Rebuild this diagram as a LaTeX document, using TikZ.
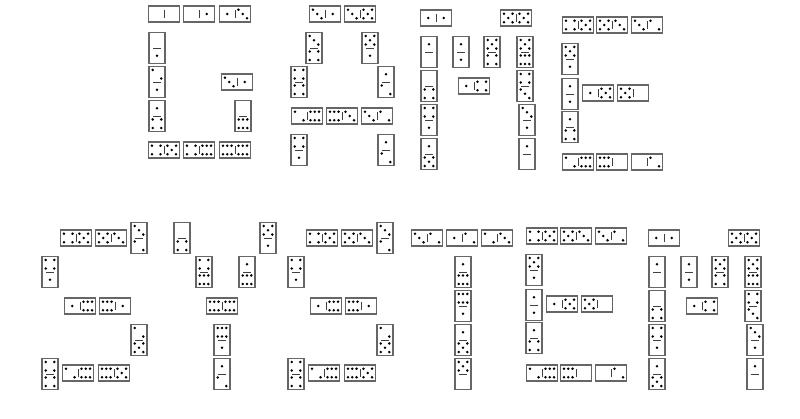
\documentclass[tikz,border=0pt]{standalone}
\tikzset{x=1pt,y=-1pt,
  dom/.style={draw=black!60,line width=1.1pt,fill=white},
  sep/.style={draw=black!75,line width=0.6pt}}
\newcommand\pip[2]{\fill (#1,#2) circle (1.4);}
\newcommand\pips[1]{\ifcase#1\or
  \pip{0}{0}\or
  \pip{-4.3}{-4.3}\pip{4.3}{4.3}\or
  \pip{-4.3}{-4.3}\pip{0}{0}\pip{4.3}{4.3}\or
  \pip{-4.3}{-4.3}\pip{4.3}{-4.3}\pip{-4.3}{4.3}\pip{4.3}{4.3}\or
  \pip{-4.3}{-4.3}\pip{4.3}{-4.3}\pip{0}{0}\pip{-4.3}{4.3}\pip{4.3}{4.3}\or
  \pip{-4.3}{-4.3}\pip{0}{-4.3}\pip{4.3}{-4.3}\pip{-4.3}{4.3}\pip{0}{4.3}\pip{4.3}{4.3}\fi}
% horizontal domino: x, y, left, right
\newcommand\domh[4]{\begin{scope}[shift={(#1,#2)}]
  \draw[dom] (-15.5,-8) rectangle (15.5,8);
  \draw[sep] (0,-4) -- (0,4);
  \begin{scope}[shift={(-7.75,0)}]\pips{#3}\end{scope}
  \begin{scope}[shift={(7.75,0)}]\pips{#4}\end{scope}
  \end{scope}}
% vertical domino: x, y, top, bottom
\newcommand\domv[4]{\begin{scope}[shift={(#1,#2)}]
  \draw[dom] (-8,-15.5) rectangle (8,15.5);
  \draw[sep] (-4,0) -- (4,0);
  \begin{scope}[shift={(0,-7.75)}]\pips{#3}\end{scope}
  \begin{scope}[shift={(0,7.75)}]\pips{#4}\end{scope}
  \end{scope}}
% letter S
\newcommand\letterS[1]{\begin{scope}[shift={(#1,0)}]
  \domh{76}{238}{4}{5} \domh{111}{238}{5}{3} \domv{139}{238}{3}{2}
  \domv{50}{272}{4}{1}
  \domh{80}{306}{1}{6} \domh{115}{306}{6}{1}
  \domv{139}{340}{2}{5}
  \domv{50}{374}{4}{4} \domh{78}{373}{2}{6} \domh{114}{373}{6}{5}
  \end{scope}}
% letter M
\newcommand\letterM[2]{\begin{scope}[shift={(#1,#2)}]
  \domh{436}{18}{1}{1} \domh{516}{18}{5}{5}
  \domv{429}{52}{1}{0} \domv{461}{52}{1}{1} \domv{492}{52}{5}{4} \domv{525}{52}{5}{6}
  \domv{429}{86}{0}{4} \domh{474}{86}{1}{4} \domv{525}{86}{4}{3}
  \domv{429}{120}{4}{1} \domv{527}{120}{3}{1}
  \domv{429}{154}{1}{5} \domv{527}{154}{1}{0}
  \end{scope}}
% letter E
\newcommand\letterE[2]{\begin{scope}[shift={(#1,#2)}]
  \domh{578}{25}{4}{5} \domh{612}{25}{5}{3} \domh{647}{25}{3}{2}
  \domv{570}{59}{5}{1}
  \domv{570}{94}{1}{1} \domh{598}{93}{1}{5} \domh{633}{93}{5}{0}
  \domv{570}{127}{1}{4}
  \domh{578}{162}{2}{6} \domh{612}{162}{6}{0} \domh{647}{162}{0}{2}
  \end{scope}}
\begin{document}
\begin{tikzpicture}
\useasboundingbox (0,0) rectangle (800,419);
% G
\domh{164}{14}{0}{0} \domh{199}{14}{0}{1} \domh{235}{14}{1}{3}
\domv{157}{48}{0}{1}
\domv{157}{82}{2}{1} \domh{237}{82}{3}{1}
\domv{157}{116}{1}{4} \domv{243}{116}{0}{6}
\domh{164}{150}{4}{5} \domh{199}{150}{4}{6} \domh{235}{150}{6}{6}
% A
\domh{325}{14}{3}{1} \domh{360}{14}{3}{5}
\domv{314}{48}{3}{4} \domv{370}{48}{5}{1}
\domv{299}{82}{4}{4} \domv{386}{82}{1}{2}
\domh{307}{116}{2}{6} \domh{342}{116}{6}{3} \domh{377}{116}{3}{2}
\domv{299}{150}{4}{1} \domv{386}{150}{1}{2}
% M, E
\letterM{0}{0}
\letterE{0}{0}
% S Y S
\letterS{0}
\domv{182}{238}{0}{4} \domv{268}{238}{5}{1}
\domv{204}{272}{4}{6} \domv{247}{272}{1}{6}
\domh{222}{306}{6}{6}
\domv{222}{340}{6}{1} \domv{222}{374}{1}{2}
\letterS{246}
% T
\domh{427}{238}{3}{2} \domh{462}{238}{1}{2} \domh{497}{238}{2}{3}
\domv{463}{272}{1}{6} \domv{463}{306}{6}{1} \domv{463}{340}{1}{5} \domv{463}{374}{5}{0}
% E, M
\letterE{-36}{211}
\letterM{228}{220}
\end{tikzpicture}
\end{document}
